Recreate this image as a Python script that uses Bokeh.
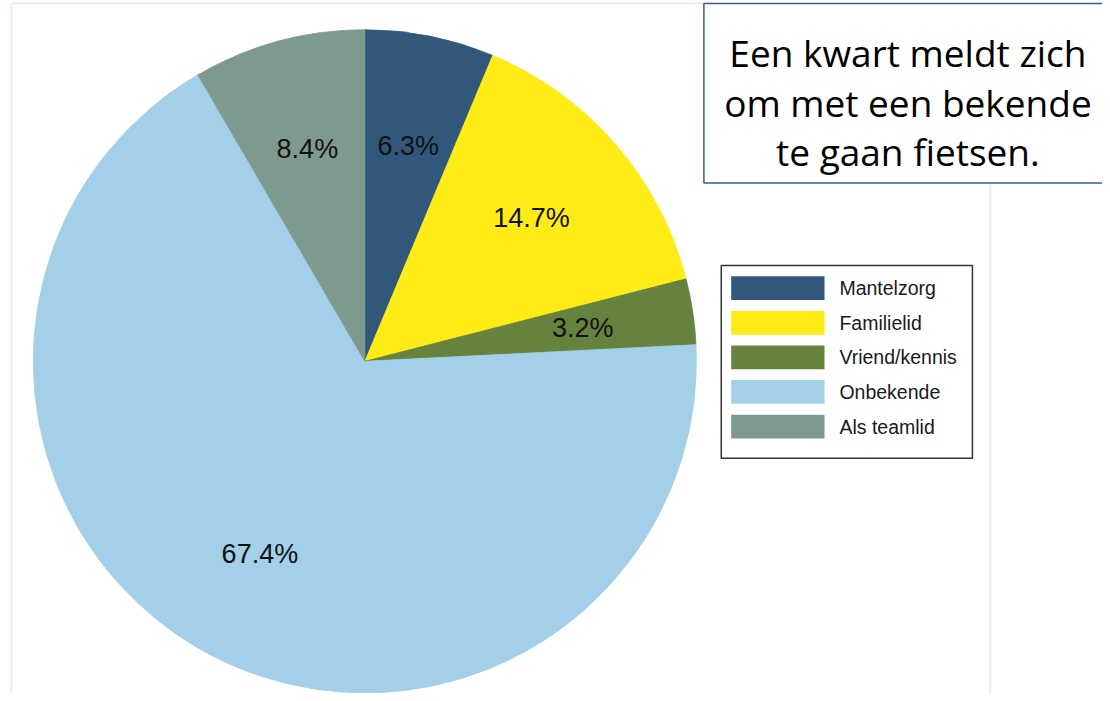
import math
from bokeh.plotting import figure
from bokeh.models import Range1d, ColumnDataSource
from bokeh.core.properties import value
from bokeh.embed import file_html
from bokeh.resources import INLINE

# ---- data ----
categories = ["Mantelzorg", "Familielid", "Vriend/kennis", "Onbekende", "Als teamlid"]
percentages = [6.3, 14.7, 3.2, 67.4, 8.4]
colors = ["#31587b", "#ffeb16", "#66823f", "#a3cfe9", "#7e998d"]
title_lines = ["Een kwart meldt zich", "om met een bekende", "te gaan fietsen."]

# ---- figure: data coords = reference pixels (x), 701 - ref y (y) ----
p = figure(width=1102, height=693, x_range=Range1d(0, 1110), y_range=Range1d(0, 701),
           output_backend="svg", toolbar_location=None, min_border=0)
p.axis.visible = False
p.grid.visible = False
p.outline_line_color = None
p.background_fill_color = "white"
p.border_fill_color = "white"

# faint slide decorations
p.segment(x0=[11, 997, 11], y0=[0, 0, 698], x1=[11, 997, 720], y1=[698, 516, 698],
          line_color="#e4eef3", line_width=2)

# ---- pie ----
cx, cy, R = 367, 336, 334
total = sum(percentages)
sa, ea, lx, ly, lt = [], [], [], [], []
cum = 0.0
for v in percentages:
    s = cum / total
    e = (cum + v) / total
    cum += v
    sa.append(math.pi / 2 - e * 2 * math.pi)
    ea.append(math.pi / 2 - s * 2 * math.pi)
    mid = (s + e) / 2 * 2 * math.pi
    lx.append(cx + 222 * math.sin(mid))
    ly.append(cy + 222 * math.cos(mid))
    lt.append(f"{v:.1f}%")

src = ColumnDataSource(dict(cat=categories, pct=percentages, color=colors,
                            sa=sa, ea=ea, lx=lx, ly=ly, lt=lt))
p.wedge(x=cx, y=cy, radius=R, start_angle="sa", end_angle="ea", direction="anticlock",
        fill_color="color", line_color="color", line_width=0.8, source=src)
p.text(x="lx", y="ly", text="lt", source=src, text_font=value("Liberation Sans"),
       text_font_size="27px", text_align="center", text_baseline="middle", text_color="#111111")

# ---- legend (manual) ----
p.quad(left=[726], right=[979], top=[701 - 268], bottom=[701 - 463],
       fill_color="white", line_color="#333333", line_width=1.5)
leg_y = [701 - (291 + 35 * i) for i in range(len(categories))]
leg_src = ColumnDataSource(dict(cat=categories, color=colors, y=leg_y,
                                xs=[783] * len(categories), xt=[845] * len(categories)))
p.rect(x="xs", y="y", width=94, height=24, fill_color="color", line_color=None, source=leg_src)
p.text(x="xt", y="y", text="cat", source=leg_src, text_font=value("Liberation Sans"),
       text_font_size="19.5px", text_baseline="middle", text_align="left", text_color="#1a1a1a")

# ---- text box ----
p.quad(left=[708.5], right=[1120], top=[698], bottom=[701 - 184.5],
       fill_color="white", line_color="#3b5b9b", line_width=1.5)
p.text(x=[914] * 3, y=[701 - 53, 701 - 103, 701 - 153], text=title_lines,
       text_font=value("Open Sans"), text_font_size="37px", text_align="center",
       text_baseline="alphabetic", text_color="#000000")

open("out.html", "w").write(file_html(p, INLINE))
